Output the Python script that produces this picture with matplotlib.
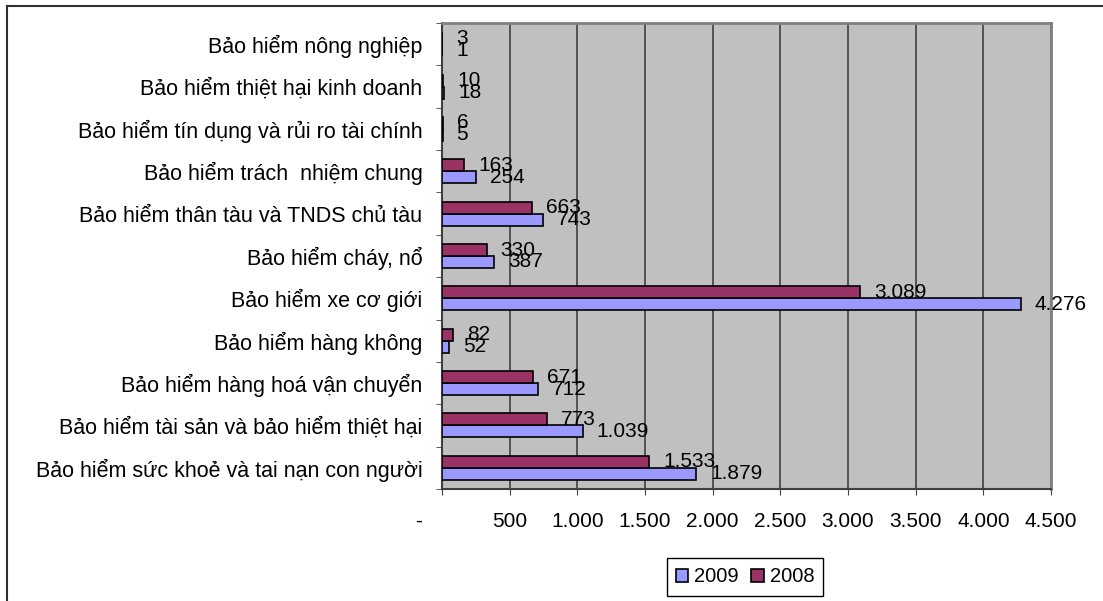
import numpy as np
import matplotlib.pyplot as plt
from matplotlib.lines import Line2D

plt.rcParams['font.family'] = ['Liberation Sans', 'DejaVu Sans']

# danh mục nghiệp vụ, từ dưới lên trên
categories = [
    "Bảo hiểm sức khoẻ và tai nạn con người",
    "Bảo hiểm tài sản và bảo hiểm thiệt hại",
    "Bảo hiểm hàng hoá vận chuyển",
    "Bảo hiểm hàng không",
    "Bảo hiểm xe cơ giới",
    "Bảo hiểm cháy, nổ",
    "Bảo hiểm thân tàu và TNDS chủ tàu",
    "Bảo hiểm trách  nhiệm chung",
    "Bảo hiểm tín dụng và rủi ro tài chính",
    "Bảo hiểm thiệt hại kinh doanh",
    "Bảo hiểm nông nghiệp",
]
v2009 = [1879, 1039, 712, 52, 4276, 387, 743, 254, 5, 18, 1]
v2008 = [1533, 773, 671, 82, 3089, 330, 663, 163, 6, 10, 3]
xticks = list(range(0, 4501, 500))

c2009 = '#9999FF'
c2008 = '#993366'


def fmt(v):
    if v == 0:
        return '-' + ' ' * 8
    return f"{v:,}".replace(",", ".")


fig = plt.figure(figsize=(11.03, 6.01), dpi=100)
ax = fig.add_axes([442 / 1103, 1 - 489 / 601, (1051 - 442) / 1103, (489 - 23) / 601])
ax.set_facecolor('#C0C0C0')

y = np.arange(len(categories))
h = 0.283
b09 = ax.barh(y - h / 2, v2009, height=h, color=c2009, edgecolor='black', lw=1.2, zorder=3, label='2009')
b08 = ax.barh(y + h / 2, v2008, height=h, color=c2008, edgecolor='black', lw=1.2, zorder=3, label='2008')

for yy, v in zip(y, v2008):
    ax.annotate(fmt(v), (v, yy + h / 2), xytext=(10, 0), textcoords='offset points',
                ha='left', va='center', fontsize=15, annotation_clip=False, zorder=5)
for yy, v in zip(y, v2009):
    ax.annotate(fmt(v), (v, yy - h / 2), xytext=(10, 0), textcoords='offset points',
                ha='left', va='center', fontsize=15, annotation_clip=False, zorder=5)

ax.set_xlim(0, 4500)
ax.set_ylim(-0.5, len(categories) - 0.5)
ax.set_xticks(xticks)
ax.set_xticklabels([fmt(v) for v in xticks], fontsize=15)
ax.tick_params(axis='x', direction='out', length=4.5, pad=12, color='#404040')
ax.grid(axis='x', color='#404040', lw=1.2, zorder=1)

ax.set_yticks(y)
ax.set_yticklabels(categories, fontsize=15.5)
ax.set_yticks(np.arange(-0.5, len(categories)), minor=True)
ax.tick_params(axis='y', which='major', length=0, pad=14)
ax.tick_params(axis='y', which='minor', direction='out', length=4, color='#404040')

for s in ['left', 'bottom']:
    ax.spines[s].set_color('#404040')
    ax.spines[s].set_linewidth(1.5)
for s in ['top', 'right']:
    ax.spines[s].set_color('#808080')
    ax.spines[s].set_linewidth(2)

leg = fig.legend(handles=[b09, b08], labels=['2009', '2008'], loc='center',
                 bbox_to_anchor=(745 / 1103, 1 - 577 / 601), ncol=2, fontsize=14.5,
                 frameon=True, fancybox=False, framealpha=1, edgecolor='black',
                 handlelength=0.62, handleheight=0.62, handletextpad=0.3,
                 columnspacing=0.6, borderpad=0.45)
leg.get_frame().set_linewidth(1)

# khung ngoài của biểu đồ
fig.add_artist(Line2D([7 / 1103, 7 / 1103], [0, 1 - 6 / 601], transform=fig.transFigure, color='#303030', lw=1.5))
fig.add_artist(Line2D([7 / 1103, 1], [1 - 6 / 601, 1 - 6 / 601], transform=fig.transFigure, color='#303030', lw=1.5))

fig.savefig('out.png', dpi=100)
